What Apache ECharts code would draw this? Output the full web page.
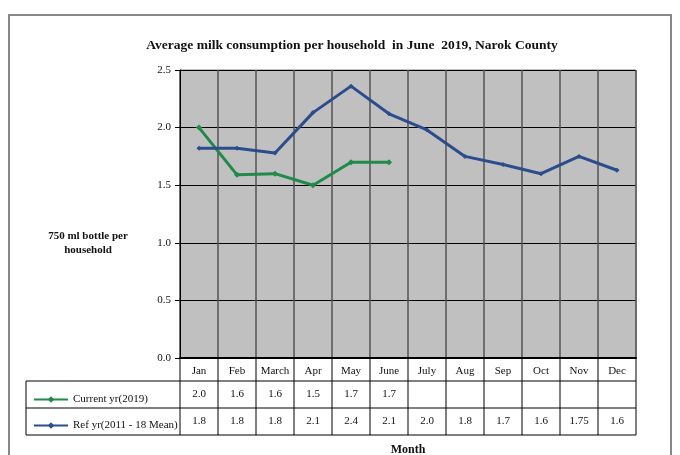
<!DOCTYPE html>
<html>
<head>
<meta charset="utf-8">
<script src="https://cdn.jsdelivr.net/npm/echarts@6/dist/echarts.min.js"></script>
<style>
html,body{margin:0;padding:0;background:#fff;}
#main{width:680px;height:455px;}
</style>
</head>
<body>
<div id="main"></div>
<script>
var months = ['Jan','Feb','March','Apr','May','June','July','Aug','Sep','Oct','Nov','Dec'];
var currentYr = [2.0,1.59,1.6,1.5,1.7,1.7];
var refYr = [1.82,1.82,1.78,2.13,2.36,2.12,1.98,1.75,1.68,1.6,1.75,1.63];
// values as printed in the data table
var currentLabels = ['2.0','1.6','1.6','1.5','1.7','1.7','','','','','',''];
var refLabels = ['1.8','1.8','1.8','2.1','2.4','2.1','2.0','1.8','1.7','1.6','1.75','1.6'];
var seriesNames = ['Current yr(2019)','Ref yr(2011 - 18 Mean)'];
var yTicks = [0,0.5,1.0,1.5,2.0,2.5];

var font = '"Liberation Serif", "Times New Roman", serif';
var green = '#1f8a4a', blue = '#2c4d8c';

var myChart = echarts.init(document.getElementById('main'));
var option = {
	backgroundColor:'#fff',
	animation:false,
	title:{
		text:'Average milk consumption per household  in June  2019, Narok County',
		left:347, textAlign:'center', top:34,
		textStyle:{fontFamily:font,fontSize:13.5,fontWeight:'bold',color:'#111'}
	},
	legend:{
		orient:'vertical', left:28, top:389, itemGap:15,
		itemWidth:34, itemHeight:8,
		data:seriesNames,
		textStyle:{fontFamily:font,fontSize:11,color:'#111'}
	},
	grid:{
		left:180, right:44, top:70, bottom:97,
		outerBoundsMode:'none', containLabel:false,
		show:true, backgroundColor:'#c0c0c0', borderColor:'#808080', borderWidth:1
	},
	xAxis:{
		type:'category', data:months,
		name:'Month', nameLocation:'middle', nameGap:86,
		nameTextStyle:{fontFamily:font,fontSize:12,fontWeight:'bold',color:'#111'},
		axisLine:{lineStyle:{color:'#000',width:2}},
		axisTick:{show:false},
		axisLabel:{fontFamily:font,fontSize:11,color:'#111',margin:8,interval:0},
		splitLine:{show:true,lineStyle:{color:'#555',width:1.5}}
	},
	yAxis:{
		type:'value', min:yTicks[0], max:yTicks[yTicks.length-1], interval:0.5,
		axisLine:{show:true,lineStyle:{color:'#000'}},
		axisTick:{show:true,length:5,lineStyle:{color:'#000'}},
		axisLabel:{fontFamily:font,fontSize:11,color:'#111',margin:9,formatter:function(v){return v.toFixed(1);}},
		splitLine:{lineStyle:{color:'#000',width:1}}
	},
	series:[
		{name:seriesNames[0],type:'line',data:currentYr,symbol:'diamond',symbolSize:6,
		 itemStyle:{color:green},lineStyle:{color:green,width:3}},
		{name:seriesNames[1],type:'line',data:refYr,symbol:'diamond',symbolSize:5,
		 itemStyle:{color:blue},lineStyle:{color:blue,width:3}}
	]
};
myChart.setOption(option);

// data table under the x axis
function buildTable(){
	var x0 = myChart.convertToPixel({xAxisIndex:0},0);
	var x1 = myChart.convertToPixel({xAxisIndex:0},1);
	var w = x1 - x0;
	var left = x0 - w/2;
	var right = left + w*months.length;
	var yAxis0 = myChart.convertToPixel({yAxisIndex:0},0);
	var rowTop = yAxis0 + 23, rowMid = rowTop + 27, rowBot = rowMid + 27;
	var tableLeft = 26;
	var els = [];
	var ls = {stroke:'#000',lineWidth:1};
	els.push({type:'line',shape:{x1:right,y1:yAxis0,x2:right,y2:rowBot},style:ls});
	els.push({type:'line',shape:{x1:tableLeft,y1:rowTop,x2:right,y2:rowTop},style:ls});
	els.push({type:'line',shape:{x1:tableLeft,y1:rowMid,x2:right,y2:rowMid},style:ls});
	els.push({type:'line',shape:{x1:tableLeft,y1:rowBot,x2:right,y2:rowBot},style:ls});
	els.push({type:'line',shape:{x1:tableLeft,y1:rowTop,x2:tableLeft,y2:rowBot},style:ls});
	for(var i=0;i<months.length;i++){
		var bx = left + i*w;
		els.push({type:'line',shape:{x1:bx,y1:yAxis0,x2:bx,y2:rowBot},style:ls});
		var cx = myChart.convertToPixel({xAxisIndex:0},i);
		els.push({type:'text',x:cx,y:(rowTop+rowMid)/2,style:{text:currentLabels[i],fill:'#111',font:'11px '+font,align:'center',verticalAlign:'middle'}});
		els.push({type:'text',x:cx,y:(rowMid+rowBot)/2,style:{text:refLabels[i],fill:'#111',font:'11px '+font,align:'center',verticalAlign:'middle'}});
	}
	// y axis title
	els.push({type:'text',x:88,y:243,style:{text:'750 ml bottle per\nhousehold',fill:'#111',font:'bold 11px '+font,align:'center',verticalAlign:'middle',lineHeight:14}});
	// outer frame
	els.push({type:'rect',shape:{x:9,y:15,width:662,height:460},style:{fill:null,stroke:'#888',lineWidth:2},silent:true});
	myChart.setOption({graphic:els});
}
buildTable();
</script>
</body>
</html>
